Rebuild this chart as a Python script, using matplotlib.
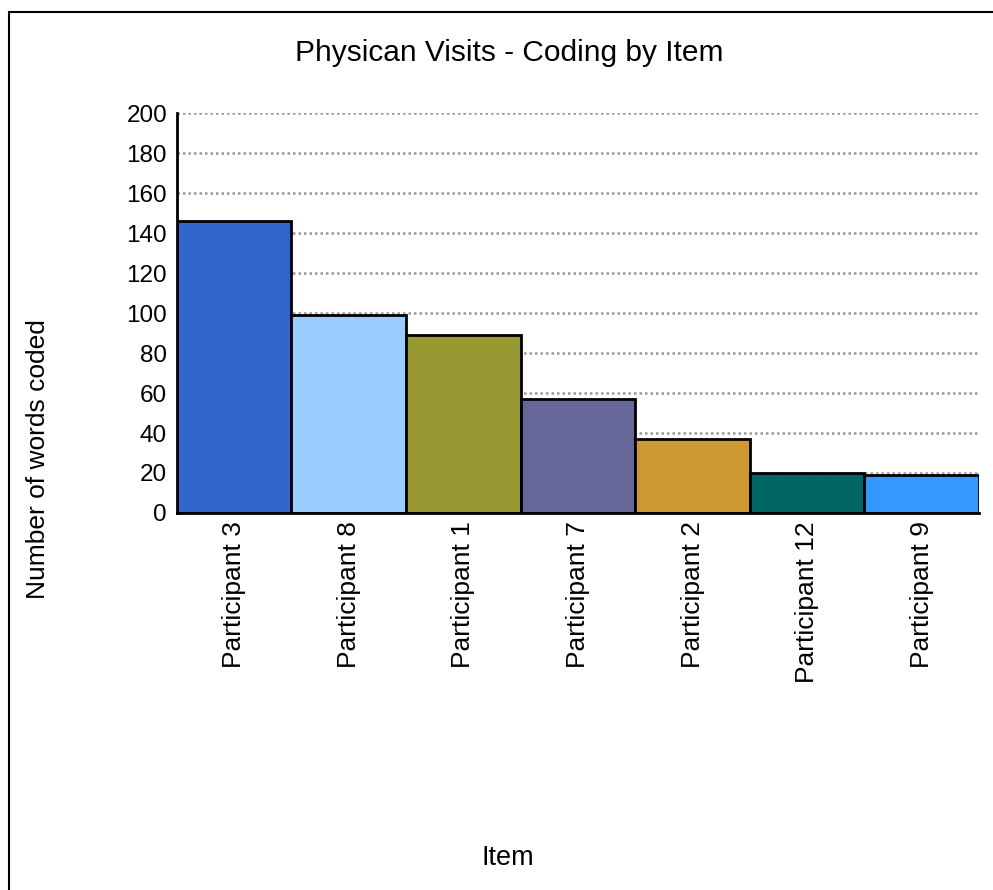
import matplotlib.pyplot as plt
from matplotlib.patches import Rectangle

# Words coded per participant for the physician visits node
participants = ["Participant 3", "Participant 8", "Participant 1", "Participant 7",
                "Participant 2", "Participant 12", "Participant 9"]
words_coded = [146, 99, 89, 57, 37, 20, 19]
bar_colors = ["#3366CC", "#99CCFF", "#999933", "#666699",
              "#CC9933", "#006666", "#3399FF"]
y_ticks = [0, 20, 40, 60, 80, 100, 120, 140, 160, 180, 200]

plt.rcParams["font.family"] = ["Liberation Sans", "DejaVu Sans"]

fig = plt.figure(figsize=(9.93, 8.9), dpi=100)
ax = fig.add_axes([0.178, 0.4236, 0.808, 0.4494])

x = range(len(participants))
ax.bar(x, words_coded, width=1.0, color=bar_colors, edgecolor="black",
       linewidth=2, zorder=3)

ax.set_xlim(-0.5, len(participants) - 0.5)
ax.set_ylim(0, 200)
ax.set_yticks(y_ticks)
ax.set_xticks(list(x))
ax.set_xticklabels(participants, rotation=90, fontsize=19)
ax.tick_params(axis="y", labelsize=17.5, length=0, pad=7)
ax.tick_params(axis="x", length=0, pad=6)

# dotted horizontal gridlines, skipping the baseline
for v in y_ticks[1:]:
    ax.axhline(v, color="#999999", linestyle=(0, (1, 1.2)), linewidth=1.8, zorder=1)

for side in ["top", "right"]:
    ax.spines[side].set_visible(False)
for side in ["left", "bottom"]:
    ax.spines[side].set_linewidth(2)
    ax.spines[side].set_zorder(4)

fig.text(509 / 993, 1 - 53 / 890, "Physican Visits - Coding by Item",
         fontsize=21.5, ha="center", va="center")
fig.text(508 / 993, 1 - 858 / 890, "Item", fontsize=19.5, ha="center", va="center")
fig.text(38 / 993, 1 - 459 / 890, "Number of words coded", fontsize=19,
         rotation=90, ha="center", va="center")

# outer frame around the chart
fig.patches.append(Rectangle((9 / 993, -0.1), 1.2, 1 - 12 / 890 + 0.1,
                             transform=fig.transFigure, fill=False,
                             edgecolor="black", linewidth=1.5))

fig.savefig("out.png", dpi=100)
